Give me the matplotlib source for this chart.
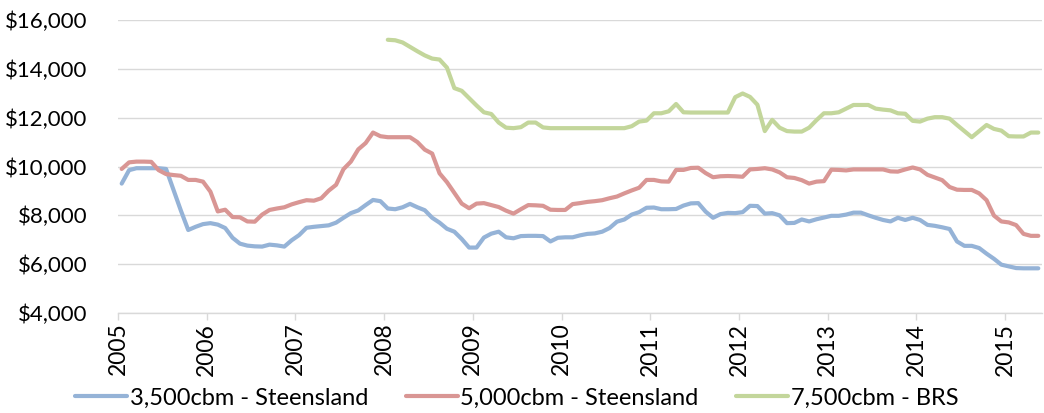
import matplotlib
matplotlib.use("Agg")
import matplotlib.pyplot as plt
import matplotlib.transforms as mtransforms
import numpy as np

# Monthly data, Jan 2005 - May 2015
start_year = 2005
n_months = 125

s3500 = [9300, 9850, 9930, 9930, 9930, 9930, 9900, 9050, 8200, 7400, 7530, 7640,
         7680, 7620, 7480, 7080, 6840, 6760, 6730, 6720, 6800, 6770, 6720, 6980,
         7190, 7490, 7530, 7560, 7590, 7700, 7900, 8090, 8200, 8420, 8630, 8580,
         8280, 8250, 8330, 8470, 8330, 8210, 7900, 7700, 7450, 7330, 7030, 6680,
         6680, 7090, 7250, 7330, 7100, 7060, 7150, 7160, 7160, 7150, 6930, 7080,
         7100, 7100, 7180, 7240, 7260, 7330, 7480, 7740, 7830, 8030, 8130, 8310,
         8320, 8250, 8250, 8260, 8400, 8490, 8500, 8150, 7900, 8050, 8100, 8090,
         8130, 8390, 8380, 8070, 8090, 8000, 7680, 7690, 7830, 7750, 7840, 7910,
         7980, 7980, 8030, 8110, 8110, 8000, 7900, 7810, 7750, 7900, 7810, 7900,
         7810, 7610, 7570, 7510, 7440, 6930, 6750, 6750, 6660, 6430, 6220, 5980,
         5910, 5840, 5830, 5830, 5830]

s5000 = [9900, 10170, 10200, 10200, 10190, 9850, 9690, 9650, 9620, 9450, 9450, 9380,
         8970, 8160, 8230, 7930, 7920, 7750, 7740, 8030, 8220, 8280, 8330, 8450,
         8540, 8620, 8600, 8700, 9010, 9250, 9890, 10200, 10700, 10960, 11390, 11240,
         11200, 11200, 11200, 11200, 11000, 10690, 10530, 9720, 9360, 8920, 8480, 8290,
         8480, 8500, 8420, 8340, 8190, 8070, 8250, 8420, 8410, 8390, 8230, 8220,
         8220, 8460, 8500, 8550, 8580, 8620, 8700, 8770, 8900, 9020, 9130, 9450,
         9450, 9390, 9380, 9860, 9860, 9940, 9950, 9730, 9560, 9600, 9610, 9600,
         9580, 9880, 9900, 9930, 9880, 9760, 9560, 9530, 9440, 9300, 9380, 9400,
         9870, 9860, 9840, 9880, 9880, 9880, 9880, 9880, 9800, 9790, 9880, 9960,
         9880, 9660, 9550, 9440, 9160, 9050, 9040, 9040, 8900, 8620, 7990, 7750,
         7710, 7600, 7240, 7160, 7160]

# 7,500cbm starts Jan 2008 (month index 36)
s7500_start = 36
s7500 = [15190, 15170, 15080, 14900, 14720, 14550, 14420, 14380, 14050, 13210, 13100, 12800,
         12500, 12220, 12150, 11800, 11590, 11570, 11610, 11800, 11800, 11600, 11570, 11570,
         11570, 11570, 11570, 11570, 11570, 11570, 11570, 11570, 11570, 11650, 11840, 11880,
         12180, 12180, 12260, 12560, 12220, 12210, 12210, 12210, 12210, 12210, 12210, 12840,
         12990, 12850, 12530, 11450, 11910, 11590, 11450, 11430, 11430, 11590, 11900, 12180,
         12180, 12220, 12370, 12520, 12520, 12520, 12370, 12330, 12300, 12180, 12160, 11870,
         11840, 11960, 12020, 12020, 11960, 11700, 11450, 11200, 11450, 11700, 11540, 11470,
         11240, 11230, 11230, 11390, 11390]

labels = ["3,500cbm - Steensland", "5,000cbm - Steensland", "7,500cbm - BRS"]
colors = ["#95B3D7", "#D99694", "#C3D69B"]
years = list(range(2005, 2016))
yticks = list(range(4000, 16001, 2000))

x_all = start_year + (np.arange(n_months) + 0.5) / 12.0
x_7500 = x_all[s7500_start:s7500_start + len(s7500)]

plt.rcParams['font.family'] = ['Lato', 'DejaVu Sans']

fig = plt.figure(figsize=(10.44, 4.13), dpi=100)
ax = fig.add_axes([118 / 1044, 1 - 313 / 413, (1042 - 118) / 1044, (313 - 20) / 413])

lw = 3.0
ax.plot(x_all, s3500, color=colors[0], lw=lw, label=labels[0], solid_joinstyle='round', solid_capstyle='round')
ax.plot(x_all, s5000, color=colors[1], lw=lw, label=labels[1], solid_joinstyle='round', solid_capstyle='round')
ax.plot(x_7500, s7500, color=colors[2], lw=lw, label=labels[2], solid_joinstyle='round', solid_capstyle='round')

ax.set_xlim(start_year, start_year + n_months / 12.0)
ax.set_ylim(4000, 16000)
ax.set_yticks(yticks)
ax.set_yticklabels([f"${v:,}" for v in yticks], fontsize=16)
ax.set_xticks(years)
ax.set_xticklabels([str(y) for y in years], rotation=90, fontsize=16.5, va='top', ha='center')
offset = mtransforms.ScaledTranslation(5 / 100, 0, fig.dpi_scale_trans)
for lab in ax.get_xticklabels():
    lab.set_transform(lab.get_transform() + offset)

ax.grid(axis='y', color='#D9D9D9', lw=1.0)
ax.set_axisbelow(True)
for sp in ['left', 'right', 'top']:
    ax.spines[sp].set_visible(False)
ax.spines['bottom'].set_color('#D9D9D9')
ax.spines['bottom'].set_linewidth(1.0)
ax.tick_params(axis='y', length=0, pad=22, labelcolor='black')
ax.tick_params(axis='x', length=5, width=1.0, color='#D9D9D9', pad=2, labelcolor='black')

leg = fig.legend(loc='center', bbox_to_anchor=(0.495, 0.036), ncol=3, frameon=False,
                 fontsize=17, handlelength=2.2, handletextpad=0.1, columnspacing=1.6)

fig.savefig("out.png", dpi=100)
